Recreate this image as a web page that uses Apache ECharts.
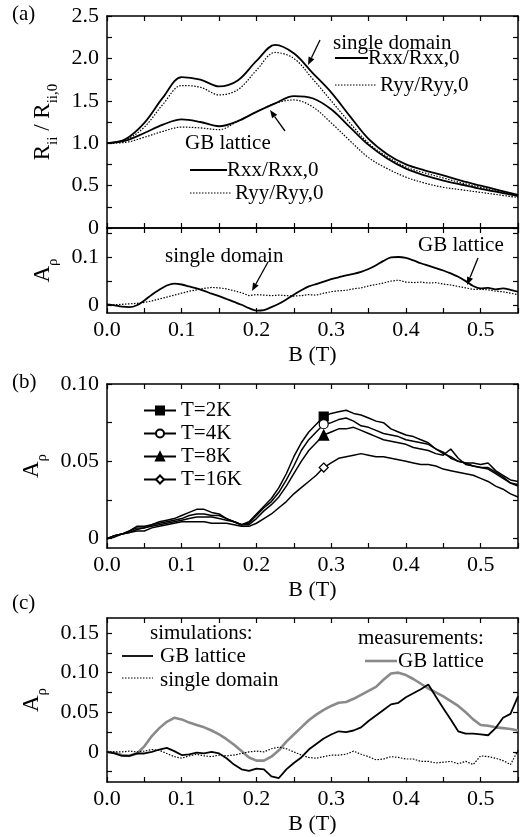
<!DOCTYPE html>
<html><head><meta charset="utf-8">
<script src="https://cdn.jsdelivr.net/npm/echarts@6/dist/echarts.min.js"></script>
<style>html,body{margin:0;padding:0;background:#fff}#c{width:523px;height:837px}</style>
</head><body><div id="c"></div>
<script>
const FONT = 'Liberation Serif';
// ---------- axis ticks ----------
const xTicks = [0,0.05,0.1,0.15,0.2,0.25,0.3,0.35,0.4,0.45,0.5,0.55];
const xLabels = [0,0.1,0.2,0.3,0.4,0.5];
const yTicksA = [0,0.25,0.5,0.75,1,1.25,1.5,1.75,2,2.25,2.5];
const yLabelsA = [0,0.5,1,1.5,2,2.5];
const yTicksA2 = [0,0.05,0.1,0.15];
const yLabelsA2 = [0,0.1];
const yTicksB = [0,0.025,0.05,0.075,0.1];
const yLabelsB = [0,0.05,0.1];
const yTicksC = [-0.025,0,0.025,0.05,0.075,0.1,0.125,0.15];
const yLabelsC = [0,0.05,0.1,0.15];

// ---------- panel (a) top: R_ii / R_ii,0 ----------
const xA = [0,0.025,0.05,0.075,0.1,0.125,0.15,0.175,0.2,0.225,0.25,0.275,0.3,0.325,0.35,0.375,0.4,0.425,0.45,0.475,0.5,0.525,0.55];
const sdRxx = [1.0,1.05,1.24,1.54,1.78,1.75,1.67,1.74,1.97,2.16,2.06,1.83,1.6,1.32,1.05,0.87,0.75,0.68,0.62,0.555,0.5,0.445,0.39];
const sdRyy = [1.0,1.04,1.19,1.46,1.68,1.66,1.57,1.63,1.86,2.07,2.0,1.76,1.5,1.24,1.0,0.84,0.72,0.65,0.59,0.53,0.48,0.43,0.38];
const gbRxx = [1.0,1.03,1.12,1.22,1.28,1.25,1.2,1.26,1.37,1.47,1.555,1.53,1.4,1.19,0.98,0.82,0.7,0.62,0.56,0.51,0.46,0.42,0.375];
const gbRyy = [1.0,1.01,1.07,1.14,1.19,1.18,1.16,1.26,1.37,1.47,1.51,1.43,1.24,1.03,0.83,0.7,0.6,0.53,0.48,0.45,0.42,0.39,0.36];

// ---------- shared fine grid for A_rho curves ----------
const xF = [0,0.01,0.02,0.03,0.04,0.05,0.06,0.07,0.08,0.09,0.1,0.11,0.12,0.13,0.14,0.15,0.16,0.17,0.18,0.19,0.2,0.21,0.22,0.23,0.24,0.25,0.26,0.27,0.28,0.29,0.3,0.31,0.32,0.33,0.34,0.35,0.36,0.37,0.38,0.39,0.4,0.41,0.42,0.43,0.44,0.45,0.46,0.47,0.48,0.49,0.5,0.51,0.52,0.53,0.54,0.55];

// ---------- panel (a) bottom: A_rho simulations ----------
const aGB = [0.002,0,-0.003,-0.004,0,0.01,0.022,0.032,0.041,0.045,0.043,0.039,0.035,0.03,0.024,0.019,0.013,0.007,0.001,-0.006,-0.011,-0.01,-0.004,0.003,0.012,0.022,0.031,0.039,0.044,0.049,0.054,0.058,0.062,0.065,0.069,0.075,0.083,0.092,0.099,0.1,0.098,0.093,0.087,0.082,0.077,0.072,0.066,0.059,0.05,0.04,0.035,0.036,0.033,0.035,0.032,0.028];
const aSD = [0,0.001,0.002,0.003,0.004,0.006,0.009,0.013,0.017,0.021,0.025,0.029,0.032,0.035,0.037,0.036,0.034,0.03,0.026,0.02,0.022,0.021,0.02,0.021,0.02,0.019,0.02,0.022,0.021,0.025,0.028,0.03,0.031,0.034,0.036,0.04,0.043,0.046,0.05,0.052,0.048,0.047,0.048,0.046,0.047,0.044,0.042,0.039,0.036,0.033,0.033,0.032,0.029,0.028,0.025,0.022];

// ---------- panel (b): measured A_rho vs temperature ----------
const seriesB = ['T=2K','T=4K','T=8K','T=16K'];
const markerIdxB = 29;
const bT2 = [0,0.002,0.003,0.005,0.008,0.008,0.009,0.011,0.012,0.013,0.015,0.017,0.019,0.019,0.017,0.016,0.013,0.011,0.009,0.011,0.016,0.021,0.026,0.033,0.042,0.053,0.062,0.069,0.074,0.079,0.081,0.082,0.083,0.081,0.08,0.078,0.076,0.075,0.071,0.069,0.067,0.066,0.064,0.062,0.058,0.055,0.053,0.05,0.049,0.049,0.048,0.049,0.044,0.041,0.038,0.037];
const bT4 = [0,0.002,0.003,0.005,0.007,0.007,0.009,0.01,0.011,0.012,0.013,0.015,0.016,0.016,0.015,0.015,0.013,0.011,0.009,0.01,0.015,0.02,0.024,0.03,0.038,0.047,0.057,0.064,0.069,0.074,0.075,0.077,0.078,0.076,0.073,0.072,0.07,0.068,0.067,0.066,0.064,0.063,0.062,0.061,0.058,0.056,0.052,0.05,0.049,0.047,0.046,0.046,0.043,0.04,0.036,0.034];
const bT8 = [0,0.002,0.003,0.004,0.006,0.007,0.008,0.009,0.01,0.011,0.012,0.013,0.014,0.014,0.014,0.013,0.012,0.011,0.009,0.009,0.013,0.018,0.022,0.027,0.034,0.042,0.05,0.057,0.062,0.067,0.069,0.071,0.071,0.072,0.07,0.068,0.066,0.064,0.063,0.062,0.061,0.059,0.058,0.057,0.055,0.054,0.058,0.052,0.048,0.047,0.046,0.045,0.042,0.039,0.036,0.035];
const bT16 = [0,0.001,0.003,0.004,0.005,0.005,0.007,0.008,0.009,0.01,0.011,0.011,0.011,0.011,0.01,0.01,0.01,0.009,0.008,0.008,0.01,0.013,0.016,0.02,0.024,0.029,0.033,0.037,0.041,0.046,0.049,0.052,0.053,0.054,0.055,0.054,0.053,0.053,0.052,0.051,0.05,0.049,0.048,0.048,0.047,0.045,0.044,0.043,0.042,0.041,0.039,0.037,0.034,0.032,0.029,0.027];

// ---------- panel (c): simulations vs measurement ----------
const cMeas = [0,-0.001,-0.004,-0.005,-0.002,0.007,0.02,0.03,0.038,0.043,0.041,0.037,0.034,0.031,0.027,0.022,0.016,0.009,0.001,-0.007,-0.011,-0.011,-0.006,0.002,0.013,0.022,0.031,0.04,0.047,0.053,0.058,0.062,0.063,0.067,0.072,0.077,0.082,0.091,0.099,0.1,0.097,0.092,0.086,0.08,0.075,0.07,0.064,0.058,0.05,0.041,0.034,0.033,0.031,0.03,0.029,0.027];
const cSimGB = [0,-0.002,-0.005,-0.005,-0.002,-0.002,0,0.003,0.005,0.001,-0.004,-0.003,-0.001,-0.002,0,-0.002,-0.008,-0.016,-0.022,-0.024,-0.021,-0.022,-0.031,-0.033,-0.022,-0.014,-0.007,0.003,0.01,0.017,0.022,0.026,0.025,0.027,0.031,0.039,0.046,0.053,0.06,0.062,0.069,0.074,0.079,0.085,0.07,0.055,0.041,0.026,0.023,0.023,0.022,0.021,0.03,0.043,0.048,0.07];
const cSimSD = [0,0,0,0.001,0,0.001,0.003,0.002,-0.002,-0.006,-0.008,-0.005,-0.003,-0.005,-0.006,-0.004,-0.005,-0.004,-0.002,0,0.001,0,0.004,0.006,0.004,0,-0.004,-0.007,-0.008,-0.006,-0.004,-0.004,-0.003,0.001,-0.003,-0.006,-0.01,-0.009,-0.006,-0.007,-0.009,-0.009,-0.012,-0.012,-0.014,-0.013,-0.012,-0.015,-0.012,-0.016,-0.005,-0.006,-0.008,-0.011,-0.016,0.002];

// ---------- layout ----------
const grids = [
  {left:107, right:5, top:16, height:212},
  {left:107, right:5, top:228, height:85},
  {left:107, right:5, top:384, height:164},
  {left:107, right:5, top:618, height:164}
];
const yRanges = [[0,2.5],[-0.016,0.16],[-0.006,0.1],[-0.038,0.169]];
const yTicks = [yTicksA,yTicksA2,yTicksB,yTicksC];
const yLabels = [yLabelsA,yLabelsA2,yLabelsB,yLabelsC];
const yFmt = [
  v => v===0?'0':v.toFixed(1),
  v => v===0?'0':v.toFixed(1),
  v => v===0?'0':v.toFixed(2),
  v => v===0?'0':v.toFixed(2)
];
const rich = {
  b:{fontFamily:FONT,fontSize:23,color:'#000',verticalAlign:'bottom',padding:[0,0,6,0]},
  s:{fontFamily:FONT,fontSize:15,color:'#000',verticalAlign:'bottom'}
};
const yNames = ['{b|R}{s|ii}{b| / R}{s|ii,0}','{b|A}{s|ρ}','{b|A}{s|ρ}','{b|A}{s|ρ}'];

const axisLine = {show:true,onZero:false,lineStyle:{color:'#000',width:1.5}};
const xAxis = [], yAxis = [];
grids.forEach((g,gi)=>{
  const showX = gi>0;
  xAxis.push({gridIndex:gi,type:'value',min:0,max:0.55,position:'bottom',
    axisLine, splitLine:{show:false},
    axisTick:{show:true,inside:true,length:5,customValues:xTicks,lineStyle:{color:'#000',width:1.2}},
    axisLabel:{show:showX,customValues:xLabels,formatter:v=>v.toFixed(1),fontFamily:FONT,fontSize:22,color:'#000',margin:6},
    name: showX?'B (T)':'', nameLocation:'middle', nameGap:31,
    nameTextStyle:{fontFamily:FONT,fontSize:22,color:'#000'}});
  xAxis.push({gridIndex:gi,type:'value',min:0,max:0.55,position:'top',
    axisLine, splitLine:{show:false},
    axisTick:{show:true,inside:true,length:5,customValues:xTicks,lineStyle:{color:'#000',width:1.2}},
    axisLabel:{show:false}});
  yAxis.push({gridIndex:gi,type:'value',min:yRanges[gi][0],max:yRanges[gi][1],position:'left',
    axisLine, splitLine:{show:false},
    axisTick:{show:true,inside:true,length:5,customValues:yTicks[gi],lineStyle:{color:'#000',width:1.2}},
    axisLabel:{show:true,customValues:yLabels[gi],formatter:yFmt[gi],fontFamily:FONT,fontSize:22,color:'#000',margin:8},
    name:yNames[gi], nameLocation:'middle', nameRotate:90, nameGap:41,
    nameTextStyle:{rich}});
  yAxis.push({gridIndex:gi,type:'value',min:yRanges[gi][0],max:yRanges[gi][1],position:'right',
    axisLine, splitLine:{show:false},
    axisTick:{show:true,inside:true,length:5,customValues:yTicks[gi],lineStyle:{color:'#000',width:1.2}},
    axisLabel:{show:false}});
});

const pairs = (xs,ys)=>xs.map((x,i)=>[x,ys[i]]);
function line(name, gi, xs, ys, style, extra){
  return Object.assign({name,type:'line',xAxisIndex:2*gi,yAxisIndex:2*gi,data:pairs(xs,ys),
    showSymbol:false,symbol:'none',animation:false,lineStyle:style,z:3}, extra||{});
}
const solid = {color:'#000',width:1.8,type:'solid'};
const dotted = {color:'#000',width:1.2,type:[1.5,1.5]};
const gray = {color:'#8a8a8a',width:2.6,type:'solid'};

function markedLine(name, ys, symbol, fill){
  const data = xF.map((x,i)=> i===markerIdxB
    ? {value:[x,ys[i]],symbol:symbol,symbolSize:symbol==='triangle'?10:9}
    : {value:[x,ys[i]],symbol:'none'});
  return {name,type:'line',xAxisIndex:4,yAxisIndex:4,data,animation:false,
    showSymbol:true,showAllSymbol:true,symbol:symbol,symbolSize:9,
    lineStyle:{color:'#000',width:1.5},
    itemStyle:{color:fill,borderColor:'#000',borderWidth:1.2},z:3};
}

const series = [
  line('sdRxx',0,xA,sdRxx,solid,{smooth:0.35}),
  line('sdRyy',0,xA,sdRyy,dotted,{smooth:0.35}),
  line('gbRxx',0,xA,gbRxx,solid,{smooth:0.35}),
  line('gbRyy',0,xA,gbRyy,dotted,{smooth:0.35}),
  line('aGB',1,xF,aGB,solid,{smooth:0.3}),
  line('aSD',1,xF,aSD,dotted),
  markedLine(seriesB[0],bT2,'rect','#000'),
  markedLine(seriesB[1],bT4,'circle','#fff'),
  markedLine(seriesB[2],bT8,'triangle','#000'),
  markedLine(seriesB[3],bT16,'diamond','#fff'),
  line('cMeas',3,xF,cMeas,gray,{z:2}),
  line('cSimGB',3,xF,cSimGB,solid),
  line('cSimSD',3,xF,cSimSD,dotted)
];

// ---------- annotations ----------
function txt(t,x,y,size){
  return {type:'text',x:x,y:y,style:{text:t,font:(size||21)+'px "'+FONT+'"',fill:'#000',
    align:'left',verticalAlign:'middle',textAlign:'left',textVerticalAlign:'middle'},z:10};
}
function seg(x1,y1,x2,y2,st){
  return {type:'line',shape:{x1,y1,x2,y2},style:Object.assign({stroke:'#000',lineWidth:1.6},st||{}),z:10};
}
function arrow(x1,y1,x2,y2){
  const dx=x2-x1, dy=y2-y1, L=Math.hypot(dx,dy), ux=dx/L, uy=dy/L;
  const hl=8, hw=3.2;
  const bx=x2-ux*hl, by=y2-uy*hl;
  return [seg(x1,y1,bx,by,{lineWidth:1.3}),
    {type:'polygon',shape:{points:[[x2,y2],[bx-uy*hw,by+ux*hw],[bx+uy*hw,by-ux*hw]]},style:{fill:'#000'},z:10}];
}
const graphic = [
  txt('(a)',12,14,21), txt('(b)',12,382,21), txt('(c)',12,603,21),
  txt('single domain',333,43),
  seg(335,58,368,58,{lineWidth:1.8}), txt('Rxx/Rxx,0',368,58),
  seg(335,85,376,85,{lineWidth:1.2,lineDash:[1.5,1.5]}), txt('Ryy/Ryy,0',380,85),
  txt('GB lattice',185,143),
  seg(190,170,227,170,{lineWidth:1.8}), txt('Rxx/Rxx,0',227,170),
  seg(190,193,231,193,{lineWidth:1.2,lineDash:[1.5,1.5]}), txt('Ryy/Ryy,0',235,193),
  ...arrow(320,40,308,65),
  ...arrow(285,131,270,110),
  txt('single domain',165,256),
  ...arrow(268,262,252,291),
  txt('GB lattice',418,245),
  ...arrow(478,258,467,285),
  txt('simulations:',150,633),
  seg(122,656,153,656,{lineWidth:1.8}), txt('GB lattice',160,656),
  seg(122,678,153,678,{lineWidth:1.2,lineDash:[1.5,1.5]}), txt('single domain',160,680),
  txt('measurements:',358,638),
  seg(365,661,397,661,{lineWidth:2.6,stroke:'#8a8a8a'}), txt('GB lattice',398,661)
];

const chart = echarts.init(document.getElementById('c'),null,{renderer:'canvas'});
chart.setOption({
  backgroundColor:'#fff',
  animation:false,
  grid:grids,
  xAxis, yAxis, series,
  legend:{show:true,data:seriesB,orient:'vertical',left:138,top:395,itemWidth:32,itemHeight:10,itemGap:2,
    textStyle:{fontFamily:FONT,fontSize:21,lineHeight:20,color:'#000'}},
  graphic
});
</script></body></html>
